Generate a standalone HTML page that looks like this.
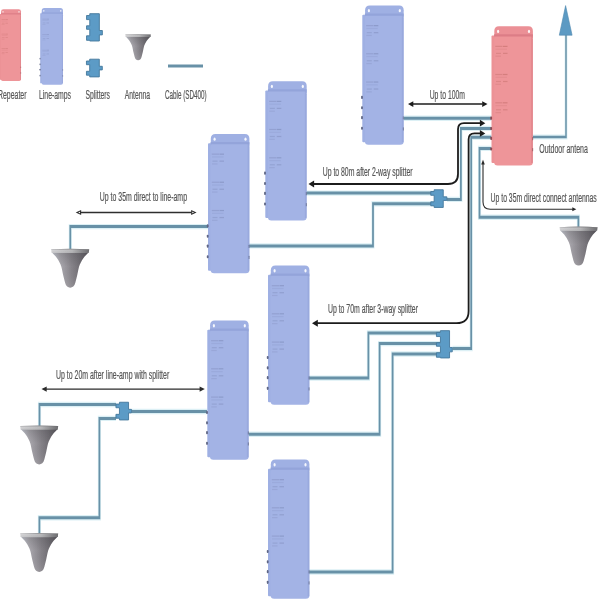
<!DOCTYPE html>
<html><head><meta charset="utf-8"><style>html,body{margin:0;padding:0;background:#fff;width:600px;height:600px;overflow:hidden}svg{display:block}text{font-family:"Liberation Sans", sans-serif}</style></head>
<body><svg width="600" height="600" viewBox="0 0 600 600" font-family='"Liberation Sans", sans-serif'><defs>
<linearGradient id="ag" x1="0" x2="1" y1="0" y2="0">
<stop offset="0" stop-color="#d2d6e0"/><stop offset="0.22" stop-color="#acaab0"/><stop offset="0.55" stop-color="#858288"/><stop offset="1" stop-color="#59565c"/></linearGradient>
<linearGradient id="agv" x1="0" x2="0" y1="0" y2="1">
<stop offset="0" stop-color="#404044" stop-opacity="0.25"/><stop offset="0.4" stop-color="#404044" stop-opacity="0"/><stop offset="1" stop-color="#ffffff" stop-opacity="0.1"/></linearGradient>
<linearGradient id="agr" x1="0" x2="1" y1="0" y2="0">
<stop offset="0" stop-color="#d4d4d6"/><stop offset="0.55" stop-color="#b8b8ba"/><stop offset="1" stop-color="#6c6c6f"/></linearGradient>
<linearGradient id="agl" x1="0" x2="1" y1="0" y2="0">
<stop offset="0" stop-color="#e0e2e6"/><stop offset="0.35" stop-color="#c8c8cc"/><stop offset="0.7" stop-color="#a4a4a8"/><stop offset="1" stop-color="#7e7e82"/></linearGradient>
<linearGradient id="aglr" x1="0" x2="1" y1="0" y2="0">
<stop offset="0" stop-color="#ececee"/><stop offset="0.6" stop-color="#d6d6d8"/><stop offset="1" stop-color="#9a9a9c"/></linearGradient>
<linearGradient id="rimv" x1="0" x2="0" y1="0" y2="1">
<stop offset="0" stop-color="#606064" stop-opacity="0.55"/><stop offset="0.35" stop-color="#606064" stop-opacity="0"/><stop offset="1" stop-color="#606064" stop-opacity="0.1"/></linearGradient>
</defs><filter id="soft" x="0" y="0" width="1" height="1"><feGaussianBlur stdDeviation="0.35"/></filter><g filter="url(#soft)"><rect width="600" height="600" fill="#fff"/><g transform="translate(-0.4,9) scale(0.517)"><rect x="0" y="9.5" width="4" height="127.5" rx="1" fill="#ec9296"/><path d="M2.8,12 L2.8,5 Q2.8,0.3 7.5,0.3 L36.9,0.3 Q41.4,0.3 41.4,5 L41.4,12 Z" fill="#eb9096"/><rect x="2.6" y="9.8" width="38.8" height="129.7" rx="3.5" fill="#ee9599"/><rect x="2.6" y="8.3" width="38.8" height="2.2" fill="#dc7d86"/><rect x="39.6" y="10" width="1.8" height="127" fill="#d97b83" opacity="0.5"/><ellipse cx="6.6" cy="5.4" rx="1.1" ry="1.7" fill="#fff" opacity="0.9"/><ellipse cx="37.5" cy="5.4" rx="1.1" ry="1.7" fill="#fff" opacity="0.9"/><rect x="-1.2" y="90.60000000000001" width="1.8" height="3.2" rx="0.8" fill="#8a4a52"/><rect x="-1.2" y="100.9" width="1.8" height="3.2" rx="0.8" fill="#8a4a52"/><rect x="-1.2" y="110.80000000000001" width="1.8" height="3.2" rx="0.8" fill="#8a4a52"/><rect x="-1.2" y="121.4" width="1.8" height="3.2" rx="0.8" fill="#8a4a52"/><rect x="40.5" y="111.0" width="1.2" height="3.2" rx="0.5" fill="#8a4a52" opacity="0.6"/><rect x="40.5" y="122.0" width="1.2" height="3.2" rx="0.5" fill="#8a4a52" opacity="0.6"/><rect x="3.8" y="19.799999999999997" width="7.2" height="1.2" fill="#9a4a40" opacity="0.22"/><rect x="11.5" y="19.799999999999997" width="4.5" height="1.2" fill="#9a4a40" opacity="0.3"/><rect x="4" y="22.599999999999998" width="11.5" height="1.2" fill="#9a4a40" opacity="0.1"/><rect x="4.5" y="26.799999999999997" width="5.0" height="1.2" fill="#9a4a40" opacity="0.2"/><rect x="11.5" y="26.799999999999997" width="4.5" height="1.2" fill="#9a4a40" opacity="0.25"/><rect x="4" y="29.599999999999998" width="5.5" height="1.2" fill="#9a4a40" opacity="0.14"/><rect x="3.8" y="47.9" width="7.2" height="1.2" fill="#9a4a40" opacity="0.22"/><rect x="11.5" y="47.9" width="4.5" height="1.2" fill="#9a4a40" opacity="0.3"/><rect x="4" y="50.699999999999996" width="11.5" height="1.2" fill="#9a4a40" opacity="0.1"/><rect x="4.5" y="54.9" width="5.0" height="1.2" fill="#9a4a40" opacity="0.2"/><rect x="11.5" y="54.9" width="4.5" height="1.2" fill="#9a4a40" opacity="0.25"/><rect x="4" y="57.699999999999996" width="5.5" height="1.2" fill="#9a4a40" opacity="0.14"/><rect x="3.8" y="76.2" width="7.2" height="1.2" fill="#9a4a40" opacity="0.22"/><rect x="11.5" y="76.2" width="4.5" height="1.2" fill="#9a4a40" opacity="0.3"/><rect x="4" y="79.0" width="11.5" height="1.2" fill="#9a4a40" opacity="0.1"/><rect x="4.5" y="83.2" width="5.0" height="1.2" fill="#9a4a40" opacity="0.2"/><rect x="11.5" y="83.2" width="4.5" height="1.2" fill="#9a4a40" opacity="0.25"/><rect x="4" y="86.0" width="5.5" height="1.2" fill="#9a4a40" opacity="0.14"/></g><g transform="translate(40.2,7.9) scale(0.55)"><rect x="0" y="9.5" width="4" height="127.5" rx="1" fill="#9fb0e3"/><path d="M2.8,12 L2.8,5 Q2.8,0.3 7.5,0.3 L36.9,0.3 Q41.4,0.3 41.4,5 L41.4,12 Z" fill="#9fb0e3"/><rect x="2.6" y="9.8" width="38.8" height="129.7" rx="3.5" fill="#a3b3e5"/><rect x="2.6" y="8.3" width="38.8" height="2.2" fill="#93a4da"/><rect x="39.6" y="10" width="1.8" height="127" fill="#8f9fd6" opacity="0.5"/><ellipse cx="6.6" cy="5.4" rx="1.1" ry="1.7" fill="#fff" opacity="0.9"/><ellipse cx="37.5" cy="5.4" rx="1.1" ry="1.7" fill="#fff" opacity="0.9"/><rect x="-1.2" y="90.60000000000001" width="1.8" height="3.2" rx="0.8" fill="#5e6584"/><rect x="-1.2" y="100.9" width="1.8" height="3.2" rx="0.8" fill="#5e6584"/><rect x="-1.2" y="110.80000000000001" width="1.8" height="3.2" rx="0.8" fill="#5e6584"/><rect x="-1.2" y="121.4" width="1.8" height="3.2" rx="0.8" fill="#5e6584"/><rect x="40.5" y="111.0" width="1.2" height="3.2" rx="0.5" fill="#5e6584" opacity="0.6"/><rect x="40.5" y="122.0" width="1.2" height="3.2" rx="0.5" fill="#5e6584" opacity="0.6"/><rect x="3.8" y="19.799999999999997" width="7.2" height="1.2" fill="#5a6490" opacity="0.22"/><rect x="11.5" y="19.799999999999997" width="4.5" height="1.2" fill="#5a6490" opacity="0.3"/><rect x="4" y="22.599999999999998" width="11.5" height="1.2" fill="#5a6490" opacity="0.1"/><rect x="4.5" y="26.799999999999997" width="5.0" height="1.2" fill="#5a6490" opacity="0.2"/><rect x="11.5" y="26.799999999999997" width="4.5" height="1.2" fill="#5a6490" opacity="0.25"/><rect x="4" y="29.599999999999998" width="5.5" height="1.2" fill="#5a6490" opacity="0.14"/><rect x="3.8" y="47.9" width="7.2" height="1.2" fill="#5a6490" opacity="0.22"/><rect x="11.5" y="47.9" width="4.5" height="1.2" fill="#5a6490" opacity="0.3"/><rect x="4" y="50.699999999999996" width="11.5" height="1.2" fill="#5a6490" opacity="0.1"/><rect x="4.5" y="54.9" width="5.0" height="1.2" fill="#5a6490" opacity="0.2"/><rect x="11.5" y="54.9" width="4.5" height="1.2" fill="#5a6490" opacity="0.25"/><rect x="4" y="57.699999999999996" width="5.5" height="1.2" fill="#5a6490" opacity="0.14"/><rect x="3.8" y="76.2" width="7.2" height="1.2" fill="#5a6490" opacity="0.22"/><rect x="11.5" y="76.2" width="4.5" height="1.2" fill="#5a6490" opacity="0.3"/><rect x="4" y="79.0" width="11.5" height="1.2" fill="#5a6490" opacity="0.1"/><rect x="4.5" y="83.2" width="5.0" height="1.2" fill="#5a6490" opacity="0.2"/><rect x="11.5" y="83.2" width="4.5" height="1.2" fill="#5a6490" opacity="0.25"/><rect x="4" y="86.0" width="5.5" height="1.2" fill="#5a6490" opacity="0.14"/></g><g transform="translate(89.3,13.25) scale(1.0)"><path d="M0.45,0.45 L10.05,0.45 L10.05,17.25 L13.05,17.25 L13.05,21.650000000000002 L10.05,21.650000000000002 L10.05,27.75 L0.45,27.75 L0.45,27.05 L-2.75,27.05 L-2.75,22.55 L0.45,22.55 L0.45,16.05 L-2.75,16.05 L-2.75,12.549999999999999 L0.45,12.549999999999999 L0.45,6.35 L-2.75,6.35 L-2.75,2.25 L0.45,2.25 Z" fill="#5c9bc6" stroke="#44789c" stroke-width="0.9" stroke-linejoin="miter"/></g><g transform="translate(89.25,58.75) scale(1.0)"><path d="M0.45,0.45 L10.05,0.45 L10.05,7.55 L13.05,7.55 L13.05,11.15 L10.05,11.15 L10.05,18.150000000000002 L0.45,18.150000000000002 L0.45,16.45 L-2.8,16.45 L-2.8,12.549999999999999 L0.45,12.549999999999999 L0.45,5.95 L-2.8,5.95 L-2.8,2.25 L0.45,2.25 Z" fill="#5c9bc6" stroke="#44789c" stroke-width="0.9" stroke-linejoin="miter"/></g><g transform="translate(138.1,34.2) scale(0.67)"><path d="M-18.5,3.6 L18.5,3.6 C17.13,5.02 15.52,6.52 14.40,7.85 C13.28,9.18 12.55,10.35 11.80,11.60 C11.05,12.85 10.43,14.10 9.90,15.35 C9.37,16.60 9.08,17.23 8.60,19.10 C8.12,20.98 7.58,24.10 7.00,26.60 C6.42,29.10 5.73,31.60 5.10,34.10 C3.5,40.6 -3.5,40.6 -5.1,34.1 C-5.73,31.60 -6.42,29.10 -7.00,26.60 C-7.58,24.10 -8.12,20.98 -8.60,19.10 C-9.08,17.23 -9.37,16.60 -9.90,15.35 C-10.43,14.10 -11.05,12.85 -11.80,11.60 C-12.55,10.35 -13.28,9.18 -14.40,7.85 C-15.52,6.52 -17.13,5.02 -18.50,3.60 Z" fill="url(#ag)"/><path d="M-18.5,3.6 L18.5,3.6 C17.13,5.02 15.52,6.52 14.40,7.85 C13.28,9.18 12.55,10.35 11.80,11.60 C11.05,12.85 10.43,14.10 9.90,15.35 C9.37,16.60 9.08,17.23 8.60,19.10 C8.12,20.98 7.58,24.10 7.00,26.60 C6.42,29.10 5.73,31.60 5.10,34.10 C3.5,40.6 -3.5,40.6 -5.1,34.1 C-5.73,31.60 -6.42,29.10 -7.00,26.60 C-7.58,24.10 -8.12,20.98 -8.60,19.10 C-9.08,17.23 -9.37,16.60 -9.90,15.35 C-10.43,14.10 -11.05,12.85 -11.80,11.60 C-12.55,10.35 -13.28,9.18 -14.40,7.85 C-15.52,6.52 -17.13,5.02 -18.50,3.60 Z" fill="url(#agv)"/><path d="M-19,0.6 Q0,-0.6 19,0.6 L18.6,4 Q0,4.6 -18.6,4 Z" fill="url(#agr)"/><path d="M-19,0.6 Q0,-0.6 19,0.6 L18.6,4 Q0,4.6 -18.6,4 Z" fill="url(#rimv)"/></g><path d="M289.66,66 L350.00,66" transform="scale(0.58,1)" fill="none" stroke="#6891a7" stroke-width="2.8" stroke-linejoin="miter" stroke-linecap="butt"/><text x="-2" y="99.1" font-size="12" textLength="28.5" lengthAdjust="spacingAndGlyphs" fill="#555555" stroke="#555555" stroke-width="0.2">Repeater</text><text x="39" y="99.1" font-size="12" textLength="32" lengthAdjust="spacingAndGlyphs" fill="#555555" stroke="#555555" stroke-width="0.2">Line-amps</text><text x="85.6" y="99.1" font-size="12" textLength="24.4" lengthAdjust="spacingAndGlyphs" fill="#555555" stroke="#555555" stroke-width="0.2">Splitters</text><text x="124.7" y="98.6" font-size="12" textLength="25.3" lengthAdjust="spacingAndGlyphs" fill="#555555" stroke="#555555" stroke-width="0.2">Antenna</text><text x="165" y="98.6" font-size="12" textLength="41.7" lengthAdjust="spacingAndGlyphs" fill="#555555" stroke="#555555" stroke-width="0.2">Cable (SD400)</text><path d="M696.55,118.2 L847.41,118.2" transform="scale(0.58,1)" fill="none" stroke="#dcf0f5" stroke-width="5.4" stroke-linejoin="miter" stroke-linecap="butt"/><path d="M847.41,128.4 L794.66,128.4 L794.66,199.4 L770.69,199.4" transform="scale(0.58,1)" fill="none" stroke="#dcf0f5" stroke-width="5.4" stroke-linejoin="miter" stroke-linecap="butt"/><path d="M747.76,193.1 L527.59,193.1" transform="scale(0.58,1)" fill="none" stroke="#dcf0f5" stroke-width="5.4" stroke-linejoin="miter" stroke-linecap="butt"/><path d="M747.76,203.8 L643.10,203.8 L643.10,245.9 L429.31,245.9" transform="scale(0.58,1)" fill="none" stroke="#dcf0f5" stroke-width="5.4" stroke-linejoin="miter" stroke-linecap="butt"/><path d="M847.41,137.2 L812.41,137.2 L812.41,348.5 L780.17,348.5" transform="scale(0.58,1)" fill="none" stroke="#dcf0f5" stroke-width="5.4" stroke-linejoin="miter" stroke-linecap="butt"/><path d="M758.62,332.9 L635.17,332.9 L635.17,378.1 L532.76,378.1" transform="scale(0.58,1)" fill="none" stroke="#dcf0f5" stroke-width="5.4" stroke-linejoin="miter" stroke-linecap="butt"/><path d="M758.62,343.6 L654.48,343.6 L654.48,434.3 L428.45,434.3" transform="scale(0.58,1)" fill="none" stroke="#dcf0f5" stroke-width="5.4" stroke-linejoin="miter" stroke-linecap="butt"/><path d="M758.62,354 L676.90,354 L676.90,572 L532.76,572" transform="scale(0.58,1)" fill="none" stroke="#dcf0f5" stroke-width="5.4" stroke-linejoin="miter" stroke-linecap="butt"/><path d="M847.41,148.4 L826.72,148.4 L826.72,217.2 L997.24,217.2 L997.24,227" transform="scale(0.58,1)" fill="none" stroke="#dcf0f5" stroke-width="5.4" stroke-linejoin="miter" stroke-linecap="butt"/><path d="M918.10,137 L975.86,137 L975.86,34" transform="scale(0.58,1)" fill="none" stroke="#dcf0f5" stroke-width="5.0" stroke-linejoin="miter" stroke-linecap="butt"/><path d="M121.21,249 L121.21,226.6 L358.62,226.6" transform="scale(0.58,1)" fill="none" stroke="#dcf0f5" stroke-width="5.4" stroke-linejoin="miter" stroke-linecap="butt"/><path d="M227.59,411.5 L356.90,411.5" transform="scale(0.58,1)" fill="none" stroke="#dcf0f5" stroke-width="5.4" stroke-linejoin="miter" stroke-linecap="butt"/><path d="M200.00,404.5 L68.10,404.5 L68.10,426" transform="scale(0.58,1)" fill="none" stroke="#dcf0f5" stroke-width="5.4" stroke-linejoin="miter" stroke-linecap="butt"/><path d="M200.00,418.4 L171.38,418.4 L171.38,517.8 L67.93,517.8 L67.93,533.5" transform="scale(0.58,1)" fill="none" stroke="#dcf0f5" stroke-width="5.4" stroke-linejoin="miter" stroke-linecap="butt"/><path d="M696.55,118.2 L847.41,118.2" transform="scale(0.58,1)" fill="none" stroke="#6891a7" stroke-width="3.0" stroke-linejoin="miter" stroke-linecap="butt"/><path d="M847.41,128.4 L794.66,128.4 L794.66,199.4 L770.69,199.4" transform="scale(0.58,1)" fill="none" stroke="#6891a7" stroke-width="3.0" stroke-linejoin="miter" stroke-linecap="butt"/><path d="M747.76,193.1 L527.59,193.1" transform="scale(0.58,1)" fill="none" stroke="#6891a7" stroke-width="3.0" stroke-linejoin="miter" stroke-linecap="butt"/><path d="M747.76,203.8 L643.10,203.8 L643.10,245.9 L429.31,245.9" transform="scale(0.58,1)" fill="none" stroke="#6891a7" stroke-width="3.0" stroke-linejoin="miter" stroke-linecap="butt"/><path d="M847.41,137.2 L812.41,137.2 L812.41,348.5 L780.17,348.5" transform="scale(0.58,1)" fill="none" stroke="#6891a7" stroke-width="3.0" stroke-linejoin="miter" stroke-linecap="butt"/><path d="M758.62,332.9 L635.17,332.9 L635.17,378.1 L532.76,378.1" transform="scale(0.58,1)" fill="none" stroke="#6891a7" stroke-width="3.0" stroke-linejoin="miter" stroke-linecap="butt"/><path d="M758.62,343.6 L654.48,343.6 L654.48,434.3 L428.45,434.3" transform="scale(0.58,1)" fill="none" stroke="#6891a7" stroke-width="3.0" stroke-linejoin="miter" stroke-linecap="butt"/><path d="M758.62,354 L676.90,354 L676.90,572 L532.76,572" transform="scale(0.58,1)" fill="none" stroke="#6891a7" stroke-width="3.0" stroke-linejoin="miter" stroke-linecap="butt"/><path d="M847.41,148.4 L826.72,148.4 L826.72,217.2 L997.24,217.2 L997.24,227" transform="scale(0.58,1)" fill="none" stroke="#6891a7" stroke-width="3.0" stroke-linejoin="miter" stroke-linecap="butt"/><path d="M918.10,137 L975.86,137 L975.86,34" transform="scale(0.58,1)" fill="none" stroke="#6891a7" stroke-width="2.6" stroke-linejoin="miter" stroke-linecap="butt"/><path d="M121.21,249 L121.21,226.6 L358.62,226.6" transform="scale(0.58,1)" fill="none" stroke="#6891a7" stroke-width="3.0" stroke-linejoin="miter" stroke-linecap="butt"/><path d="M227.59,411.5 L356.90,411.5" transform="scale(0.58,1)" fill="none" stroke="#6891a7" stroke-width="3.0" stroke-linejoin="miter" stroke-linecap="butt"/><path d="M200.00,404.5 L68.10,404.5 L68.10,426" transform="scale(0.58,1)" fill="none" stroke="#6891a7" stroke-width="3.0" stroke-linejoin="miter" stroke-linecap="butt"/><path d="M200.00,418.4 L171.38,418.4 L171.38,517.8 L67.93,517.8 L67.93,533.5" transform="scale(0.58,1)" fill="none" stroke="#6891a7" stroke-width="3.0" stroke-linejoin="miter" stroke-linecap="butt"/><polygon points="565.6,5.6 559.3,35.2 572.1,35.2" fill="#5c9ac3" stroke="#5089b0" stroke-width="0.6" stroke-linejoin="round"/><g transform="translate(362.3,5.25) scale(1.0)"><rect x="0" y="9.5" width="4" height="127.5" rx="1" fill="#9fb0e3"/><path d="M2.8,12 L2.8,5 Q2.8,0.3 7.5,0.3 L36.9,0.3 Q41.4,0.3 41.4,5 L41.4,12 Z" fill="#9fb0e3"/><rect x="2.6" y="9.8" width="38.8" height="129.7" rx="3.5" fill="#a3b3e5"/><rect x="2.6" y="8.3" width="38.8" height="2.2" fill="#93a4da"/><rect x="39.6" y="10" width="1.8" height="127" fill="#8f9fd6" opacity="0.5"/><ellipse cx="6.6" cy="5.4" rx="1.1" ry="1.7" fill="#fff" opacity="0.9"/><ellipse cx="37.5" cy="5.4" rx="1.1" ry="1.7" fill="#fff" opacity="0.9"/><rect x="-1.2" y="90.60000000000001" width="1.8" height="3.2" rx="0.8" fill="#5e6584"/><rect x="-1.2" y="100.9" width="1.8" height="3.2" rx="0.8" fill="#5e6584"/><rect x="-1.2" y="110.80000000000001" width="1.8" height="3.2" rx="0.8" fill="#5e6584"/><rect x="-1.2" y="121.4" width="1.8" height="3.2" rx="0.8" fill="#5e6584"/><rect x="40.5" y="111.0" width="1.2" height="3.2" rx="0.5" fill="#5e6584" opacity="0.6"/><rect x="40.5" y="122.0" width="1.2" height="3.2" rx="0.5" fill="#5e6584" opacity="0.6"/><rect x="3.8" y="19.799999999999997" width="7.2" height="1.2" fill="#5a6490" opacity="0.22"/><rect x="11.5" y="19.799999999999997" width="4.5" height="1.2" fill="#5a6490" opacity="0.3"/><rect x="4" y="22.599999999999998" width="11.5" height="1.2" fill="#5a6490" opacity="0.1"/><rect x="4.5" y="26.799999999999997" width="5.0" height="1.2" fill="#5a6490" opacity="0.2"/><rect x="11.5" y="26.799999999999997" width="4.5" height="1.2" fill="#5a6490" opacity="0.25"/><rect x="4" y="29.599999999999998" width="5.5" height="1.2" fill="#5a6490" opacity="0.14"/><rect x="3.8" y="47.9" width="7.2" height="1.2" fill="#5a6490" opacity="0.22"/><rect x="11.5" y="47.9" width="4.5" height="1.2" fill="#5a6490" opacity="0.3"/><rect x="4" y="50.699999999999996" width="11.5" height="1.2" fill="#5a6490" opacity="0.1"/><rect x="4.5" y="54.9" width="5.0" height="1.2" fill="#5a6490" opacity="0.2"/><rect x="11.5" y="54.9" width="4.5" height="1.2" fill="#5a6490" opacity="0.25"/><rect x="4" y="57.699999999999996" width="5.5" height="1.2" fill="#5a6490" opacity="0.14"/><rect x="3.8" y="76.2" width="7.2" height="1.2" fill="#5a6490" opacity="0.22"/><rect x="11.5" y="76.2" width="4.5" height="1.2" fill="#5a6490" opacity="0.3"/><rect x="4" y="79.0" width="11.5" height="1.2" fill="#5a6490" opacity="0.1"/><rect x="4.5" y="83.2" width="5.0" height="1.2" fill="#5a6490" opacity="0.2"/><rect x="11.5" y="83.2" width="4.5" height="1.2" fill="#5a6490" opacity="0.25"/><rect x="4" y="86.0" width="5.5" height="1.2" fill="#5a6490" opacity="0.14"/></g><g transform="translate(491.5,26) scale(1.0)"><rect x="0" y="9.5" width="4" height="127.5" rx="1" fill="#ec9296"/><path d="M2.8,12 L2.8,5 Q2.8,0.3 7.5,0.3 L36.9,0.3 Q41.4,0.3 41.4,5 L41.4,12 Z" fill="#eb9096"/><rect x="2.6" y="9.8" width="38.8" height="129.7" rx="3.5" fill="#ee9599"/><rect x="2.6" y="8.3" width="38.8" height="2.2" fill="#dc7d86"/><rect x="39.6" y="10" width="1.8" height="127" fill="#d97b83" opacity="0.5"/><ellipse cx="6.6" cy="5.4" rx="1.1" ry="1.7" fill="#fff" opacity="0.9"/><ellipse cx="37.5" cy="5.4" rx="1.1" ry="1.7" fill="#fff" opacity="0.9"/><rect x="-1.2" y="90.60000000000001" width="1.8" height="3.2" rx="0.8" fill="#8a4a52"/><rect x="-1.2" y="100.9" width="1.8" height="3.2" rx="0.8" fill="#8a4a52"/><rect x="-1.2" y="110.80000000000001" width="1.8" height="3.2" rx="0.8" fill="#8a4a52"/><rect x="-1.2" y="121.4" width="1.8" height="3.2" rx="0.8" fill="#8a4a52"/><rect x="40.5" y="111.0" width="1.2" height="3.2" rx="0.5" fill="#8a4a52" opacity="0.6"/><rect x="40.5" y="122.0" width="1.2" height="3.2" rx="0.5" fill="#8a4a52" opacity="0.6"/><rect x="3.8" y="19.799999999999997" width="7.2" height="1.2" fill="#9a4a40" opacity="0.22"/><rect x="11.5" y="19.799999999999997" width="4.5" height="1.2" fill="#9a4a40" opacity="0.3"/><rect x="4" y="22.599999999999998" width="11.5" height="1.2" fill="#9a4a40" opacity="0.1"/><rect x="4.5" y="26.799999999999997" width="5.0" height="1.2" fill="#9a4a40" opacity="0.2"/><rect x="11.5" y="26.799999999999997" width="4.5" height="1.2" fill="#9a4a40" opacity="0.25"/><rect x="4" y="29.599999999999998" width="5.5" height="1.2" fill="#9a4a40" opacity="0.14"/><rect x="3.8" y="47.9" width="7.2" height="1.2" fill="#9a4a40" opacity="0.22"/><rect x="11.5" y="47.9" width="4.5" height="1.2" fill="#9a4a40" opacity="0.3"/><rect x="4" y="50.699999999999996" width="11.5" height="1.2" fill="#9a4a40" opacity="0.1"/><rect x="4.5" y="54.9" width="5.0" height="1.2" fill="#9a4a40" opacity="0.2"/><rect x="11.5" y="54.9" width="4.5" height="1.2" fill="#9a4a40" opacity="0.25"/><rect x="4" y="57.699999999999996" width="5.5" height="1.2" fill="#9a4a40" opacity="0.14"/><rect x="3.8" y="76.2" width="7.2" height="1.2" fill="#9a4a40" opacity="0.22"/><rect x="11.5" y="76.2" width="4.5" height="1.2" fill="#9a4a40" opacity="0.3"/><rect x="4" y="79.0" width="11.5" height="1.2" fill="#9a4a40" opacity="0.1"/><rect x="4.5" y="83.2" width="5.0" height="1.2" fill="#9a4a40" opacity="0.2"/><rect x="11.5" y="83.2" width="4.5" height="1.2" fill="#9a4a40" opacity="0.25"/><rect x="4" y="86.0" width="5.5" height="1.2" fill="#9a4a40" opacity="0.14"/></g><g transform="translate(265.3,81) scale(1.0)"><rect x="0" y="9.5" width="4" height="127.5" rx="1" fill="#9fb0e3"/><path d="M2.8,12 L2.8,5 Q2.8,0.3 7.5,0.3 L36.9,0.3 Q41.4,0.3 41.4,5 L41.4,12 Z" fill="#9fb0e3"/><rect x="2.6" y="9.8" width="38.8" height="129.7" rx="3.5" fill="#a3b3e5"/><rect x="2.6" y="8.3" width="38.8" height="2.2" fill="#93a4da"/><rect x="39.6" y="10" width="1.8" height="127" fill="#8f9fd6" opacity="0.5"/><ellipse cx="6.6" cy="5.4" rx="1.1" ry="1.7" fill="#fff" opacity="0.9"/><ellipse cx="37.5" cy="5.4" rx="1.1" ry="1.7" fill="#fff" opacity="0.9"/><rect x="-1.2" y="90.60000000000001" width="1.8" height="3.2" rx="0.8" fill="#5e6584"/><rect x="-1.2" y="100.9" width="1.8" height="3.2" rx="0.8" fill="#5e6584"/><rect x="-1.2" y="110.80000000000001" width="1.8" height="3.2" rx="0.8" fill="#5e6584"/><rect x="-1.2" y="121.4" width="1.8" height="3.2" rx="0.8" fill="#5e6584"/><rect x="40.5" y="111.0" width="1.2" height="3.2" rx="0.5" fill="#5e6584" opacity="0.6"/><rect x="40.5" y="122.0" width="1.2" height="3.2" rx="0.5" fill="#5e6584" opacity="0.6"/><rect x="3.8" y="19.799999999999997" width="7.2" height="1.2" fill="#5a6490" opacity="0.22"/><rect x="11.5" y="19.799999999999997" width="4.5" height="1.2" fill="#5a6490" opacity="0.3"/><rect x="4" y="22.599999999999998" width="11.5" height="1.2" fill="#5a6490" opacity="0.1"/><rect x="4.5" y="26.799999999999997" width="5.0" height="1.2" fill="#5a6490" opacity="0.2"/><rect x="11.5" y="26.799999999999997" width="4.5" height="1.2" fill="#5a6490" opacity="0.25"/><rect x="4" y="29.599999999999998" width="5.5" height="1.2" fill="#5a6490" opacity="0.14"/><rect x="3.8" y="47.9" width="7.2" height="1.2" fill="#5a6490" opacity="0.22"/><rect x="11.5" y="47.9" width="4.5" height="1.2" fill="#5a6490" opacity="0.3"/><rect x="4" y="50.699999999999996" width="11.5" height="1.2" fill="#5a6490" opacity="0.1"/><rect x="4.5" y="54.9" width="5.0" height="1.2" fill="#5a6490" opacity="0.2"/><rect x="11.5" y="54.9" width="4.5" height="1.2" fill="#5a6490" opacity="0.25"/><rect x="4" y="57.699999999999996" width="5.5" height="1.2" fill="#5a6490" opacity="0.14"/><rect x="3.8" y="76.2" width="7.2" height="1.2" fill="#5a6490" opacity="0.22"/><rect x="11.5" y="76.2" width="4.5" height="1.2" fill="#5a6490" opacity="0.3"/><rect x="4" y="79.0" width="11.5" height="1.2" fill="#5a6490" opacity="0.1"/><rect x="4.5" y="83.2" width="5.0" height="1.2" fill="#5a6490" opacity="0.2"/><rect x="11.5" y="83.2" width="4.5" height="1.2" fill="#5a6490" opacity="0.25"/><rect x="4" y="86.0" width="5.5" height="1.2" fill="#5a6490" opacity="0.14"/></g><g transform="translate(208,133.75) scale(1.0)"><rect x="0" y="9.5" width="4" height="127.5" rx="1" fill="#9fb0e3"/><path d="M2.8,12 L2.8,5 Q2.8,0.3 7.5,0.3 L36.9,0.3 Q41.4,0.3 41.4,5 L41.4,12 Z" fill="#9fb0e3"/><rect x="2.6" y="9.8" width="38.8" height="129.7" rx="3.5" fill="#a3b3e5"/><rect x="2.6" y="8.3" width="38.8" height="2.2" fill="#93a4da"/><rect x="39.6" y="10" width="1.8" height="127" fill="#8f9fd6" opacity="0.5"/><ellipse cx="6.6" cy="5.4" rx="1.1" ry="1.7" fill="#fff" opacity="0.9"/><ellipse cx="37.5" cy="5.4" rx="1.1" ry="1.7" fill="#fff" opacity="0.9"/><rect x="-1.2" y="90.60000000000001" width="1.8" height="3.2" rx="0.8" fill="#5e6584"/><rect x="-1.2" y="100.9" width="1.8" height="3.2" rx="0.8" fill="#5e6584"/><rect x="-1.2" y="110.80000000000001" width="1.8" height="3.2" rx="0.8" fill="#5e6584"/><rect x="-1.2" y="121.4" width="1.8" height="3.2" rx="0.8" fill="#5e6584"/><rect x="40.5" y="111.0" width="1.2" height="3.2" rx="0.5" fill="#5e6584" opacity="0.6"/><rect x="40.5" y="122.0" width="1.2" height="3.2" rx="0.5" fill="#5e6584" opacity="0.6"/><rect x="3.8" y="19.799999999999997" width="7.2" height="1.2" fill="#5a6490" opacity="0.22"/><rect x="11.5" y="19.799999999999997" width="4.5" height="1.2" fill="#5a6490" opacity="0.3"/><rect x="4" y="22.599999999999998" width="11.5" height="1.2" fill="#5a6490" opacity="0.1"/><rect x="4.5" y="26.799999999999997" width="5.0" height="1.2" fill="#5a6490" opacity="0.2"/><rect x="11.5" y="26.799999999999997" width="4.5" height="1.2" fill="#5a6490" opacity="0.25"/><rect x="4" y="29.599999999999998" width="5.5" height="1.2" fill="#5a6490" opacity="0.14"/><rect x="3.8" y="47.9" width="7.2" height="1.2" fill="#5a6490" opacity="0.22"/><rect x="11.5" y="47.9" width="4.5" height="1.2" fill="#5a6490" opacity="0.3"/><rect x="4" y="50.699999999999996" width="11.5" height="1.2" fill="#5a6490" opacity="0.1"/><rect x="4.5" y="54.9" width="5.0" height="1.2" fill="#5a6490" opacity="0.2"/><rect x="11.5" y="54.9" width="4.5" height="1.2" fill="#5a6490" opacity="0.25"/><rect x="4" y="57.699999999999996" width="5.5" height="1.2" fill="#5a6490" opacity="0.14"/><rect x="3.8" y="76.2" width="7.2" height="1.2" fill="#5a6490" opacity="0.22"/><rect x="11.5" y="76.2" width="4.5" height="1.2" fill="#5a6490" opacity="0.3"/><rect x="4" y="79.0" width="11.5" height="1.2" fill="#5a6490" opacity="0.1"/><rect x="4.5" y="83.2" width="5.0" height="1.2" fill="#5a6490" opacity="0.2"/><rect x="11.5" y="83.2" width="4.5" height="1.2" fill="#5a6490" opacity="0.25"/><rect x="4" y="86.0" width="5.5" height="1.2" fill="#5a6490" opacity="0.14"/></g><g transform="translate(268,265.3) scale(1.0)"><rect x="0" y="9.5" width="4" height="127.5" rx="1" fill="#9fb0e3"/><path d="M2.8,12 L2.8,5 Q2.8,0.3 7.5,0.3 L36.9,0.3 Q41.4,0.3 41.4,5 L41.4,12 Z" fill="#9fb0e3"/><rect x="2.6" y="9.8" width="38.8" height="129.7" rx="3.5" fill="#a3b3e5"/><rect x="2.6" y="8.3" width="38.8" height="2.2" fill="#93a4da"/><rect x="39.6" y="10" width="1.8" height="127" fill="#8f9fd6" opacity="0.5"/><ellipse cx="6.6" cy="5.4" rx="1.1" ry="1.7" fill="#fff" opacity="0.9"/><ellipse cx="37.5" cy="5.4" rx="1.1" ry="1.7" fill="#fff" opacity="0.9"/><rect x="-1.2" y="90.60000000000001" width="1.8" height="3.2" rx="0.8" fill="#5e6584"/><rect x="-1.2" y="100.9" width="1.8" height="3.2" rx="0.8" fill="#5e6584"/><rect x="-1.2" y="110.80000000000001" width="1.8" height="3.2" rx="0.8" fill="#5e6584"/><rect x="-1.2" y="121.4" width="1.8" height="3.2" rx="0.8" fill="#5e6584"/><rect x="40.5" y="111.0" width="1.2" height="3.2" rx="0.5" fill="#5e6584" opacity="0.6"/><rect x="40.5" y="122.0" width="1.2" height="3.2" rx="0.5" fill="#5e6584" opacity="0.6"/><rect x="3.8" y="19.799999999999997" width="7.2" height="1.2" fill="#5a6490" opacity="0.22"/><rect x="11.5" y="19.799999999999997" width="4.5" height="1.2" fill="#5a6490" opacity="0.3"/><rect x="4" y="22.599999999999998" width="11.5" height="1.2" fill="#5a6490" opacity="0.1"/><rect x="4.5" y="26.799999999999997" width="5.0" height="1.2" fill="#5a6490" opacity="0.2"/><rect x="11.5" y="26.799999999999997" width="4.5" height="1.2" fill="#5a6490" opacity="0.25"/><rect x="4" y="29.599999999999998" width="5.5" height="1.2" fill="#5a6490" opacity="0.14"/><rect x="3.8" y="47.9" width="7.2" height="1.2" fill="#5a6490" opacity="0.22"/><rect x="11.5" y="47.9" width="4.5" height="1.2" fill="#5a6490" opacity="0.3"/><rect x="4" y="50.699999999999996" width="11.5" height="1.2" fill="#5a6490" opacity="0.1"/><rect x="4.5" y="54.9" width="5.0" height="1.2" fill="#5a6490" opacity="0.2"/><rect x="11.5" y="54.9" width="4.5" height="1.2" fill="#5a6490" opacity="0.25"/><rect x="4" y="57.699999999999996" width="5.5" height="1.2" fill="#5a6490" opacity="0.14"/><rect x="3.8" y="76.2" width="7.2" height="1.2" fill="#5a6490" opacity="0.22"/><rect x="11.5" y="76.2" width="4.5" height="1.2" fill="#5a6490" opacity="0.3"/><rect x="4" y="79.0" width="11.5" height="1.2" fill="#5a6490" opacity="0.1"/><rect x="4.5" y="83.2" width="5.0" height="1.2" fill="#5a6490" opacity="0.2"/><rect x="11.5" y="83.2" width="4.5" height="1.2" fill="#5a6490" opacity="0.25"/><rect x="4" y="86.0" width="5.5" height="1.2" fill="#5a6490" opacity="0.14"/></g><g transform="translate(207.3,320.3) scale(1.0)"><rect x="0" y="9.5" width="4" height="127.5" rx="1" fill="#9fb0e3"/><path d="M2.8,12 L2.8,5 Q2.8,0.3 7.5,0.3 L36.9,0.3 Q41.4,0.3 41.4,5 L41.4,12 Z" fill="#9fb0e3"/><rect x="2.6" y="9.8" width="38.8" height="129.7" rx="3.5" fill="#a3b3e5"/><rect x="2.6" y="8.3" width="38.8" height="2.2" fill="#93a4da"/><rect x="39.6" y="10" width="1.8" height="127" fill="#8f9fd6" opacity="0.5"/><ellipse cx="6.6" cy="5.4" rx="1.1" ry="1.7" fill="#fff" opacity="0.9"/><ellipse cx="37.5" cy="5.4" rx="1.1" ry="1.7" fill="#fff" opacity="0.9"/><rect x="-1.2" y="90.60000000000001" width="1.8" height="3.2" rx="0.8" fill="#5e6584"/><rect x="-1.2" y="100.9" width="1.8" height="3.2" rx="0.8" fill="#5e6584"/><rect x="-1.2" y="110.80000000000001" width="1.8" height="3.2" rx="0.8" fill="#5e6584"/><rect x="-1.2" y="121.4" width="1.8" height="3.2" rx="0.8" fill="#5e6584"/><rect x="40.5" y="111.0" width="1.2" height="3.2" rx="0.5" fill="#5e6584" opacity="0.6"/><rect x="40.5" y="122.0" width="1.2" height="3.2" rx="0.5" fill="#5e6584" opacity="0.6"/><rect x="3.8" y="19.799999999999997" width="7.2" height="1.2" fill="#5a6490" opacity="0.22"/><rect x="11.5" y="19.799999999999997" width="4.5" height="1.2" fill="#5a6490" opacity="0.3"/><rect x="4" y="22.599999999999998" width="11.5" height="1.2" fill="#5a6490" opacity="0.1"/><rect x="4.5" y="26.799999999999997" width="5.0" height="1.2" fill="#5a6490" opacity="0.2"/><rect x="11.5" y="26.799999999999997" width="4.5" height="1.2" fill="#5a6490" opacity="0.25"/><rect x="4" y="29.599999999999998" width="5.5" height="1.2" fill="#5a6490" opacity="0.14"/><rect x="3.8" y="47.9" width="7.2" height="1.2" fill="#5a6490" opacity="0.22"/><rect x="11.5" y="47.9" width="4.5" height="1.2" fill="#5a6490" opacity="0.3"/><rect x="4" y="50.699999999999996" width="11.5" height="1.2" fill="#5a6490" opacity="0.1"/><rect x="4.5" y="54.9" width="5.0" height="1.2" fill="#5a6490" opacity="0.2"/><rect x="11.5" y="54.9" width="4.5" height="1.2" fill="#5a6490" opacity="0.25"/><rect x="4" y="57.699999999999996" width="5.5" height="1.2" fill="#5a6490" opacity="0.14"/><rect x="3.8" y="76.2" width="7.2" height="1.2" fill="#5a6490" opacity="0.22"/><rect x="11.5" y="76.2" width="4.5" height="1.2" fill="#5a6490" opacity="0.3"/><rect x="4" y="79.0" width="11.5" height="1.2" fill="#5a6490" opacity="0.1"/><rect x="4.5" y="83.2" width="5.0" height="1.2" fill="#5a6490" opacity="0.2"/><rect x="11.5" y="83.2" width="4.5" height="1.2" fill="#5a6490" opacity="0.25"/><rect x="4" y="86.0" width="5.5" height="1.2" fill="#5a6490" opacity="0.14"/></g><g transform="translate(268,459.3) scale(1.0)"><rect x="0" y="9.5" width="4" height="127.5" rx="1" fill="#9fb0e3"/><path d="M2.8,12 L2.8,5 Q2.8,0.3 7.5,0.3 L36.9,0.3 Q41.4,0.3 41.4,5 L41.4,12 Z" fill="#9fb0e3"/><rect x="2.6" y="9.8" width="38.8" height="129.7" rx="3.5" fill="#a3b3e5"/><rect x="2.6" y="8.3" width="38.8" height="2.2" fill="#93a4da"/><rect x="39.6" y="10" width="1.8" height="127" fill="#8f9fd6" opacity="0.5"/><ellipse cx="6.6" cy="5.4" rx="1.1" ry="1.7" fill="#fff" opacity="0.9"/><ellipse cx="37.5" cy="5.4" rx="1.1" ry="1.7" fill="#fff" opacity="0.9"/><rect x="-1.2" y="90.60000000000001" width="1.8" height="3.2" rx="0.8" fill="#5e6584"/><rect x="-1.2" y="100.9" width="1.8" height="3.2" rx="0.8" fill="#5e6584"/><rect x="-1.2" y="110.80000000000001" width="1.8" height="3.2" rx="0.8" fill="#5e6584"/><rect x="-1.2" y="121.4" width="1.8" height="3.2" rx="0.8" fill="#5e6584"/><rect x="40.5" y="111.0" width="1.2" height="3.2" rx="0.5" fill="#5e6584" opacity="0.6"/><rect x="40.5" y="122.0" width="1.2" height="3.2" rx="0.5" fill="#5e6584" opacity="0.6"/><rect x="3.8" y="19.799999999999997" width="7.2" height="1.2" fill="#5a6490" opacity="0.22"/><rect x="11.5" y="19.799999999999997" width="4.5" height="1.2" fill="#5a6490" opacity="0.3"/><rect x="4" y="22.599999999999998" width="11.5" height="1.2" fill="#5a6490" opacity="0.1"/><rect x="4.5" y="26.799999999999997" width="5.0" height="1.2" fill="#5a6490" opacity="0.2"/><rect x="11.5" y="26.799999999999997" width="4.5" height="1.2" fill="#5a6490" opacity="0.25"/><rect x="4" y="29.599999999999998" width="5.5" height="1.2" fill="#5a6490" opacity="0.14"/><rect x="3.8" y="47.9" width="7.2" height="1.2" fill="#5a6490" opacity="0.22"/><rect x="11.5" y="47.9" width="4.5" height="1.2" fill="#5a6490" opacity="0.3"/><rect x="4" y="50.699999999999996" width="11.5" height="1.2" fill="#5a6490" opacity="0.1"/><rect x="4.5" y="54.9" width="5.0" height="1.2" fill="#5a6490" opacity="0.2"/><rect x="11.5" y="54.9" width="4.5" height="1.2" fill="#5a6490" opacity="0.25"/><rect x="4" y="57.699999999999996" width="5.5" height="1.2" fill="#5a6490" opacity="0.14"/><rect x="3.8" y="76.2" width="7.2" height="1.2" fill="#5a6490" opacity="0.22"/><rect x="11.5" y="76.2" width="4.5" height="1.2" fill="#5a6490" opacity="0.3"/><rect x="4" y="79.0" width="11.5" height="1.2" fill="#5a6490" opacity="0.1"/><rect x="4.5" y="83.2" width="5.0" height="1.2" fill="#5a6490" opacity="0.2"/><rect x="11.5" y="83.2" width="4.5" height="1.2" fill="#5a6490" opacity="0.25"/><rect x="4" y="86.0" width="5.5" height="1.2" fill="#5a6490" opacity="0.14"/></g><g transform="translate(433.7,189.3) scale(1.0)"><path d="M0.45,0.45 L9.55,0.45 L9.55,7.55 L13.15,7.55 L13.15,11.15 L9.55,11.15 L9.55,18.150000000000002 L0.45,18.150000000000002 L0.45,16.45 L-2.9499999999999997,16.45 L-2.9499999999999997,12.549999999999999 L0.45,12.549999999999999 L0.45,5.95 L-2.9499999999999997,5.95 L-2.9499999999999997,2.25 L0.45,2.25 Z" fill="#5c9bc6" stroke="#44789c" stroke-width="0.9" stroke-linejoin="miter"/></g><g transform="translate(440,330.2) scale(1.0)"><path d="M0.45,0.45 L9.55,0.45 L9.55,17.25 L12.25,17.25 L12.25,21.650000000000002 L9.55,21.650000000000002 L9.55,27.75 L0.45,27.75 L0.45,27.05 L-3.55,27.05 L-3.55,22.55 L0.45,22.55 L0.45,16.05 L-3.55,16.05 L-3.55,12.549999999999999 L0.45,12.549999999999999 L0.45,6.35 L-3.55,6.35 L-3.55,2.25 L0.45,2.25 Z" fill="#5c9bc6" stroke="#44789c" stroke-width="0.9" stroke-linejoin="miter"/></g><g transform="translate(119,401.8) scale(1.0)"><path d="M0.45,0.45 L9.55,0.45 L9.55,7.55 L12.55,7.55 L12.55,11.15 L9.55,11.15 L9.55,18.150000000000002 L0.45,18.150000000000002 L0.45,16.45 L-3.05,16.45 L-3.05,12.549999999999999 L0.45,12.549999999999999 L0.45,5.95 L-3.05,5.95 L-3.05,2.25 L0.45,2.25 Z" fill="#5c9bc6" stroke="#44789c" stroke-width="0.9" stroke-linejoin="miter"/></g><g transform="translate(70.2,248.7) scale(1.0)"><path d="M-18.5,3.6 L18.5,3.6 C17.13,5.02 15.52,6.52 14.40,7.85 C13.28,9.18 12.55,10.35 11.80,11.60 C11.05,12.85 10.43,14.10 9.90,15.35 C9.37,16.60 9.08,17.23 8.60,19.10 C8.12,20.98 7.58,24.10 7.00,26.60 C6.42,29.10 5.73,31.60 5.10,34.10 C3.5,40.6 -3.5,40.6 -5.1,34.1 C-5.73,31.60 -6.42,29.10 -7.00,26.60 C-7.58,24.10 -8.12,20.98 -8.60,19.10 C-9.08,17.23 -9.37,16.60 -9.90,15.35 C-10.43,14.10 -11.05,12.85 -11.80,11.60 C-12.55,10.35 -13.28,9.18 -14.40,7.85 C-15.52,6.52 -17.13,5.02 -18.50,3.60 Z" fill="url(#ag)"/><path d="M-18.5,3.6 L18.5,3.6 C17.13,5.02 15.52,6.52 14.40,7.85 C13.28,9.18 12.55,10.35 11.80,11.60 C11.05,12.85 10.43,14.10 9.90,15.35 C9.37,16.60 9.08,17.23 8.60,19.10 C8.12,20.98 7.58,24.10 7.00,26.60 C6.42,29.10 5.73,31.60 5.10,34.10 C3.5,40.6 -3.5,40.6 -5.1,34.1 C-5.73,31.60 -6.42,29.10 -7.00,26.60 C-7.58,24.10 -8.12,20.98 -8.60,19.10 C-9.08,17.23 -9.37,16.60 -9.90,15.35 C-10.43,14.10 -11.05,12.85 -11.80,11.60 C-12.55,10.35 -13.28,9.18 -14.40,7.85 C-15.52,6.52 -17.13,5.02 -18.50,3.60 Z" fill="url(#agv)"/><path d="M-19,0.6 Q0,-0.6 19,0.6 L18.6,4 Q0,4.6 -18.6,4 Z" fill="url(#agr)"/><path d="M-19,0.6 Q0,-0.6 19,0.6 L18.6,4 Q0,4.6 -18.6,4 Z" fill="url(#rimv)"/></g><g transform="translate(578.6,226.6) scale(1.0)"><path d="M-18.5,3.6 L18.5,3.6 C17.13,5.02 15.52,6.52 14.40,7.85 C13.28,9.18 12.55,10.35 11.80,11.60 C11.05,12.85 10.43,14.10 9.90,15.35 C9.37,16.60 9.08,17.23 8.60,19.10 C8.12,20.98 7.58,24.10 7.00,26.60 C6.42,29.10 5.73,31.60 5.10,34.10 C3.5,40.6 -3.5,40.6 -5.1,34.1 C-5.73,31.60 -6.42,29.10 -7.00,26.60 C-7.58,24.10 -8.12,20.98 -8.60,19.10 C-9.08,17.23 -9.37,16.60 -9.90,15.35 C-10.43,14.10 -11.05,12.85 -11.80,11.60 C-12.55,10.35 -13.28,9.18 -14.40,7.85 C-15.52,6.52 -17.13,5.02 -18.50,3.60 Z" fill="url(#ag)"/><path d="M-18.5,3.6 L18.5,3.6 C17.13,5.02 15.52,6.52 14.40,7.85 C13.28,9.18 12.55,10.35 11.80,11.60 C11.05,12.85 10.43,14.10 9.90,15.35 C9.37,16.60 9.08,17.23 8.60,19.10 C8.12,20.98 7.58,24.10 7.00,26.60 C6.42,29.10 5.73,31.60 5.10,34.10 C3.5,40.6 -3.5,40.6 -5.1,34.1 C-5.73,31.60 -6.42,29.10 -7.00,26.60 C-7.58,24.10 -8.12,20.98 -8.60,19.10 C-9.08,17.23 -9.37,16.60 -9.90,15.35 C-10.43,14.10 -11.05,12.85 -11.80,11.60 C-12.55,10.35 -13.28,9.18 -14.40,7.85 C-15.52,6.52 -17.13,5.02 -18.50,3.60 Z" fill="url(#agv)"/><path d="M-19,0.6 Q0,-0.6 19,0.6 L18.6,4 Q0,4.6 -18.6,4 Z" fill="url(#agr)"/><path d="M-19,0.6 Q0,-0.6 19,0.6 L18.6,4 Q0,4.6 -18.6,4 Z" fill="url(#rimv)"/></g><g transform="translate(39.2,425.5) scale(1.0)"><path d="M-18.5,3.6 L18.5,3.6 C17.13,5.02 15.52,6.52 14.40,7.85 C13.28,9.18 12.55,10.35 11.80,11.60 C11.05,12.85 10.43,14.10 9.90,15.35 C9.37,16.60 9.08,17.23 8.60,19.10 C8.12,20.98 7.58,24.10 7.00,26.60 C6.42,29.10 5.73,31.60 5.10,34.10 C3.5,40.6 -3.5,40.6 -5.1,34.1 C-5.73,31.60 -6.42,29.10 -7.00,26.60 C-7.58,24.10 -8.12,20.98 -8.60,19.10 C-9.08,17.23 -9.37,16.60 -9.90,15.35 C-10.43,14.10 -11.05,12.85 -11.80,11.60 C-12.55,10.35 -13.28,9.18 -14.40,7.85 C-15.52,6.52 -17.13,5.02 -18.50,3.60 Z" fill="url(#ag)"/><path d="M-18.5,3.6 L18.5,3.6 C17.13,5.02 15.52,6.52 14.40,7.85 C13.28,9.18 12.55,10.35 11.80,11.60 C11.05,12.85 10.43,14.10 9.90,15.35 C9.37,16.60 9.08,17.23 8.60,19.10 C8.12,20.98 7.58,24.10 7.00,26.60 C6.42,29.10 5.73,31.60 5.10,34.10 C3.5,40.6 -3.5,40.6 -5.1,34.1 C-5.73,31.60 -6.42,29.10 -7.00,26.60 C-7.58,24.10 -8.12,20.98 -8.60,19.10 C-9.08,17.23 -9.37,16.60 -9.90,15.35 C-10.43,14.10 -11.05,12.85 -11.80,11.60 C-12.55,10.35 -13.28,9.18 -14.40,7.85 C-15.52,6.52 -17.13,5.02 -18.50,3.60 Z" fill="url(#agv)"/><path d="M-19,0.6 Q0,-0.6 19,0.6 L18.6,4 Q0,4.6 -18.6,4 Z" fill="url(#agr)"/><path d="M-19,0.6 Q0,-0.6 19,0.6 L18.6,4 Q0,4.6 -18.6,4 Z" fill="url(#rimv)"/></g><g transform="translate(39.2,533) scale(1.0)"><path d="M-18.5,3.6 L18.5,3.6 C17.13,5.02 15.52,6.52 14.40,7.85 C13.28,9.18 12.55,10.35 11.80,11.60 C11.05,12.85 10.43,14.10 9.90,15.35 C9.37,16.60 9.08,17.23 8.60,19.10 C8.12,20.98 7.58,24.10 7.00,26.60 C6.42,29.10 5.73,31.60 5.10,34.10 C3.5,40.6 -3.5,40.6 -5.1,34.1 C-5.73,31.60 -6.42,29.10 -7.00,26.60 C-7.58,24.10 -8.12,20.98 -8.60,19.10 C-9.08,17.23 -9.37,16.60 -9.90,15.35 C-10.43,14.10 -11.05,12.85 -11.80,11.60 C-12.55,10.35 -13.28,9.18 -14.40,7.85 C-15.52,6.52 -17.13,5.02 -18.50,3.60 Z" fill="url(#ag)"/><path d="M-18.5,3.6 L18.5,3.6 C17.13,5.02 15.52,6.52 14.40,7.85 C13.28,9.18 12.55,10.35 11.80,11.60 C11.05,12.85 10.43,14.10 9.90,15.35 C9.37,16.60 9.08,17.23 8.60,19.10 C8.12,20.98 7.58,24.10 7.00,26.60 C6.42,29.10 5.73,31.60 5.10,34.10 C3.5,40.6 -3.5,40.6 -5.1,34.1 C-5.73,31.60 -6.42,29.10 -7.00,26.60 C-7.58,24.10 -8.12,20.98 -8.60,19.10 C-9.08,17.23 -9.37,16.60 -9.90,15.35 C-10.43,14.10 -11.05,12.85 -11.80,11.60 C-12.55,10.35 -13.28,9.18 -14.40,7.85 C-15.52,6.52 -17.13,5.02 -18.50,3.60 Z" fill="url(#agv)"/><path d="M-19,0.6 Q0,-0.6 19,0.6 L18.6,4 Q0,4.6 -18.6,4 Z" fill="url(#agr)"/><path d="M-19,0.6 Q0,-0.6 19,0.6 L18.6,4 Q0,4.6 -18.6,4 Z" fill="url(#rimv)"/></g><path d="M413,104.1 L482.5,104.1" fill="none" stroke="#1c1c1c" stroke-width="1.5" /><polygon points="408,104.1 413.3,101.19999999999999 413.3,107.0" fill="#1c1c1c"/><polygon points="487.5,104.1 482.2,101.19999999999999 482.2,107.0" fill="#1c1c1c"/><path d="M313,184 L448,184 Q458,184 458,174 L458,129.3 Q458,123.2 464,123.2 L480.5,123.2" fill="none" stroke="#1c1c1c" stroke-width="1.8" /><polygon points="308.5,184 314.1,180.6 314.1,187.4" fill="#1c1c1c"/><polygon points="485.3,123.2 479.90000000000003,119.8 479.90000000000003,126.60000000000001" fill="#1c1c1c"/><path d="M316.5,323.2 L456.5,323.2 Q468.6,323.2 468.6,311 L468.6,139.3 Q468.6,133.4 474.5,133.4 L480.5,133.4" fill="none" stroke="#1c1c1c" stroke-width="1.8" /><polygon points="312,323.2 317.8,319.7 317.8,326.7" fill="#1c1c1c"/><polygon points="485.3,133.4 479.90000000000003,130.0 479.90000000000003,136.8" fill="#1c1c1c"/><path d="M483,164 L483,202 Q483,209.3 490.3,209.3 L573,209.3" fill="none" stroke="#2a2a2a" stroke-width="1.1" /><polygon points="483,159.8 481.2,164.60000000000002 484.8,164.60000000000002" fill="#2a2a2a"/><polygon points="576.3,209.3 572.3,207.3 572.3,211.3" fill="#2a2a2a"/><path d="M80.6,212.5 L191.7,212.5" fill="none" stroke="#2e2e2e" stroke-width="1.4" /><polygon points="77,212.5 80.6,210.8 80.6,214.2" fill="#fff" stroke="#2e2e2e" stroke-width="1.1" stroke-linejoin="miter"/><polygon points="195.3,212.5 191.70000000000002,210.8 191.70000000000002,214.2" fill="#fff" stroke="#2e2e2e" stroke-width="1.1" stroke-linejoin="miter"/><path d="M46,389.1 L200.5,389.1" fill="none" stroke="#2a2a2a" stroke-width="1.4" /><polygon points="41.5,389.1 46.7,386.5 46.7,391.70000000000005" fill="#2a2a2a"/><polygon points="204.8,389.1 199.60000000000002,386.5 199.60000000000002,391.70000000000005" fill="#2a2a2a"/><text x="429.7" y="98.7" font-size="12" textLength="35.3" lengthAdjust="spacingAndGlyphs" fill="#555555" stroke="#555555" stroke-width="0.2">Up to 100m</text><text x="322.7" y="175.8" font-size="12" textLength="89.8" lengthAdjust="spacingAndGlyphs" fill="#555555" stroke="#555555" stroke-width="0.2">Up to 80m after 2-way splitter</text><text x="327.9" y="313.4" font-size="12" textLength="90.1" lengthAdjust="spacingAndGlyphs" fill="#555555" stroke="#555555" stroke-width="0.2">Up to 70m after 3-way splitter</text><text x="99.8" y="200.5" font-size="12" textLength="87.2" lengthAdjust="spacingAndGlyphs" fill="#555555" stroke="#555555" stroke-width="0.2">Up to 35m direct to line-amp</text><text x="56" y="379" font-size="12" textLength="113.2" lengthAdjust="spacingAndGlyphs" fill="#555555" stroke="#555555" stroke-width="0.2">Up to 20m after line-amp with splitter</text><text x="490.6" y="201.7" font-size="12" textLength="106.2" lengthAdjust="spacingAndGlyphs" fill="#555555" stroke="#555555" stroke-width="0.2">Up to 35m direct connect antennas</text><text x="539.3" y="152.8" font-size="12" textLength="48.5" lengthAdjust="spacingAndGlyphs" fill="#555555" stroke="#555555" stroke-width="0.2">Outdoor antena</text></g></svg></body></html>
